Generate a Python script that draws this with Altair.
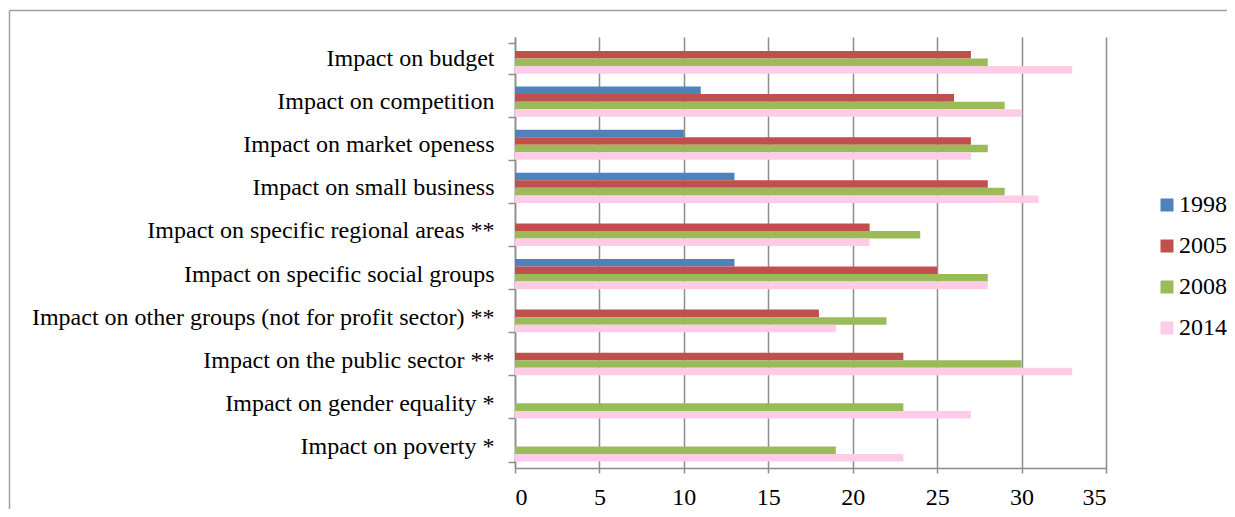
import altair as alt
import pandas as pd

categories = [
    "Impact on budget",
    "Impact on competition",
    "Impact on market openess",
    "Impact on small business ",
    "Impact on specific regional areas **",
    "Impact on specific social groups",
    "Impact on other groups (not for profit sector) **",
    "Impact on the public sector **",
    "Impact on gender equality *",
    "Impact on poverty *",
]
years = ["1998", "2005", "2008", "2014"]
v1998 = [None, 11, 10, 13, None, 13, None, None, None, None]
v2005 = [27, 26, 27, 28, 21, 25, 18, 23, None, None]
v2008 = [28, 29, 28, 29, 24, 28, 22, 30, 23, 19]
v2014 = [33, 30, 27, 31, 21, 28, 19, 33, 27, 23]
colors = ["#4F81BD", "#C0504D", "#9BBB59", "#FFCCE8"]
x_ticks = [0, 5, 10, 15, 20, 25, 30, 35]

rows = []
for yr, vals in zip(years, [v1998, v2005, v2008, v2014]):
    for c, v in zip(categories, vals):
        if v is not None:
            rows.append({"category": c, "year": yr, "value": v})
df = pd.DataFrame(rows)

FONT = "'Times New Roman', 'Liberation Serif', serif"
GRAY = "#8C8C8C"

bars = alt.Chart(df).mark_bar().encode(
    y=alt.Y("category:N", sort=categories,
            scale=alt.Scale(domain=categories, paddingInner=0.3, paddingOuter=0.15),
            axis=alt.Axis(title=None, tickBand="extent", labelFont=FONT, labelFontSize=24,
                          labelColor="#000000", labelPadding=14, tickSize=7,
                          tickColor=GRAY, domainColor=GRAY, domainWidth=1.5, tickWidth=1.5,
                          grid=False, labelLimit=600)),
    yOffset=alt.YOffset("year:N", scale=alt.Scale(domain=years, paddingInner=0, paddingOuter=0)),
    x=alt.X("value:Q", scale=alt.Scale(domain=[0, 35], nice=False),
            axis=alt.Axis(title=None, values=x_ticks, labelFont=FONT, labelFontSize=24,
                          labelColor="#000000", labelPadding=12, tickSize=5,
                          tickColor=GRAY, domainColor=GRAY, domainWidth=1.5, tickWidth=1.5,
                          grid=True, gridColor=GRAY, gridWidth=1.5)),
    color=alt.Color("year:N", scale=alt.Scale(domain=years, range=colors),
                    legend=alt.Legend(title=None, orient="none", legendX=633, legendY=156,
                                      labelFont=FONT, labelFontSize=24, labelColor="#000000",
                                      symbolType="square", symbolSize=169, symbolStrokeWidth=0,
                                      symbolOffset=7,
                                      rowPadding=17, labelOffset=0)),
)

frame_df = pd.DataFrame({"k": [0]})
frame_top = alt.Chart(frame_df).mark_rule(color="#A0A0A0", strokeWidth=1.5).encode(
    x=alt.value(-505.5), x2=alt.value(900), y=alt.value(-26.5))
frame_left = alt.Chart(frame_df).mark_rule(color="#A0A0A0", strokeWidth=1.5).encode(
    x=alt.value(-505.5), y=alt.value(-26.5), y2=alt.value(700))

chart = alt.layer(bars, frame_top, frame_left).properties(
    width=591, height=431,
    autosize=alt.AutoSizeParams(type="none"),
    padding={"left": 507, "top": 29, "right": 121, "bottom": 41},
).configure_view(strokeWidth=0)

chart.save("out.html", embed_options={"renderer": "svg", "actions": False})
